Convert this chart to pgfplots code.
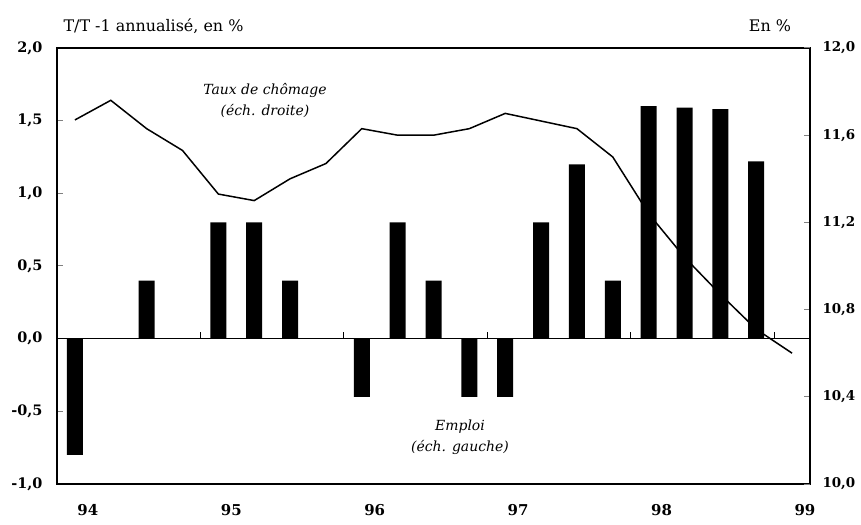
\documentclass[border=0pt]{standalone}
\usepackage{fontspec}
\setmainfont{DejaVu Serif}
\usepackage{pgfplots}
\pgfplotsset{compat=1.18}
\begin{document}
\begin{tikzpicture}
\useasboundingbox (0,0) rectangle (861bp,525bp);
% emploi, axe de gauche
\begin{axis}[at={(57bp,41bp)}, anchor=south west, scale only axis,
  width=753bp, height=436bp,
  xmin=-0.5, xmax=20.5, ymin=-1, ymax=2,
  axis line style={line width=1.5bp},
  ytick={-1,-0.5,0,0.5,1,1.5,2},
  yticklabels={{-1,0},{-0,5},{0,0},{0,5},{1,0},{1,5},{2,0}},
  ytick pos=left, tick align=inside, major tick length=6bp,
  ytick style={line width=1bp},
  yticklabel style={font=\bfseries\fontsize{14.5}{15}\selectfont, xshift=-11bp},
  xtick={0.36,4.36,8.36,12.36,16.36,20.36},
  xticklabels={94,95,96,97,98,99},
  xtick style={draw=none},
  xticklabel style={font=\bfseries\fontsize{15}{15}\selectfont, yshift=-17bp},
  clip=false]
\addplot[ybar, fill=black, draw=none, bar width=16bp] coordinates {
  (0,-0.8) (2,0.4) (4,0.8) (5,0.8) (6,0.4) (8,-0.4) (9,0.8) (10,0.4)
  (11,-0.4) (12,-0.4) (13,0.8) (14,1.2) (15,0.4) (16,1.6) (17,1.59)
  (18,1.58) (19,1.22)};
\draw[line width=1.5bp] (axis cs:-0.5,0) -- (axis cs:20.5,0);
\pgfplotsinvokeforeach{3.5,7.5,11.5,15.5,19.5}{
  \draw[line width=1bp] (axis cs:#1,0) -- ++(0pt,7bp);}
\end{axis}
% taux de chomage, axe de droite
\begin{axis}[at={(57bp,41bp)}, anchor=south west, scale only axis,
  width=753bp, height=436bp,
  xmin=-0.5, xmax=20.5, ymin=10, ymax=12,
  axis x line=none, axis y line*=right,
  axis line style={line width=1.5bp},
  ytick={10,10.4,10.8,11.2,11.6,12},
  yticklabels={{10,0},{10,4},{10,8},{11,2},{11,6},{12,0}},
  tick align=inside, major tick length=6bp,
  ytick style={line width=1bp},
  yticklabel style={font=\bfseries\fontsize{13.5}{15}\selectfont, xshift=9bp}]
\addplot[black, line width=1.5bp, mark=none] coordinates {
  (0,11.67) (1,11.76) (2,11.63) (3,11.53) (4,11.33) (5,11.30) (6,11.40)
  (7,11.47) (8,11.63) (9,11.60) (10,11.60) (11,11.63) (12,11.70)
  (13,11.665) (14,11.63) (15,11.50) (16,11.24) (17,11.04) (18,10.87)
  (19,10.71) (20,10.60)};
\end{axis}
\node[anchor=west, font=\fontsize{16}{18}\selectfont] at (60bp,499bp) {T/T -1 annualisé, en \%};
\node[font=\fontsize{16}{18}\selectfont] at (770bp,499bp) {En \%};
\node[font=\itshape\fontsize{14}{16}\selectfont] at (265bp,435bp) {Taux de chômage};
\node[font=\itshape\fontsize{14}{16}\selectfont] at (265bp,414bp) {(éch. droite)};
\node[font=\itshape\fontsize{14}{16}\selectfont] at (460bp,98bp) {Emploi};
\node[font=\itshape\fontsize{14}{16}\selectfont] at (460bp,78bp) {(éch. gauche)};
\end{tikzpicture}
\end{document}
